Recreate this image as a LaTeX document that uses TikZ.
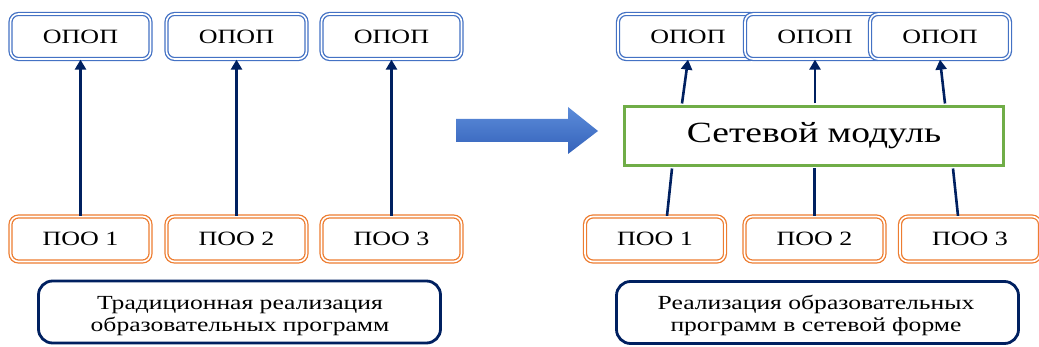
\documentclass[tikz,border=0pt]{standalone}
\usepackage{fontspec}
\setmainfont{Liberation Serif}[FakeStretch=1.28]
\usetikzlibrary{arrows.meta,calc}
\definecolor{bbox}{RGB}{68,114,196}
\definecolor{obox}{RGB}{237,125,49}
\definecolor{navy}{RGB}{0,32,96}
\definecolor{gbox}{RGB}{112,173,71}
\definecolor{arrtop}{RGB}{92,140,218}
\definecolor{arrbot}{RGB}{52,98,186}
\begin{document}
\begin{tikzpicture}[x=1pt,y=-1pt,
  dbl/.style={draw=#1, double=white, line width=1.3pt, double distance=1.6pt,
    rounded corners=8pt, fill=white, minimum width=140pt, minimum height=45pt,
    inner sep=0pt, font=\fontsize{20.3}{22}\selectfont},
  capbox/.style={draw=navy, line width=2.8pt, rounded corners=14pt, fill=white,
    minimum width=402pt, minimum height=62pt, inner sep=0pt, align=center,
    font=\fontsize{20}{22}\selectfont},
  captxt/.style={inner sep=0pt, align=center, font=\fontsize{20}{22}\selectfont},
  modbox/.style={draw=gbox, line width=3pt, fill=white, minimum width=379pt,
    minimum height=59pt, inner sep=0pt, font=\fontsize{29.3}{32}\selectfont},
  arr/.style={draw=navy, line width=2.6pt, -{Triangle[width=11pt,length=10pt]}},
  lnk/.style={draw=navy, line width=2.6pt}
]
\useasboundingbox (0,0) rectangle (1039,347);

% left side
\node[dbl=bbox] (lo1) at (80.5,36.5) {ОПОП};
\node[dbl=bbox] (lo2) at (236.5,36.5) {ОПОП};
\node[dbl=bbox] (lo3) at (391.5,36.5) {ОПОП};
\node[dbl=obox] (lp1) at (80.5,239) {ПОО 1};
\node[dbl=obox] (lp2) at (236.5,239) {ПОО 2};
\node[dbl=obox] (lp3) at (391.5,239) {ПОО 3};
\draw[arr] (lp1.north) -- (lo1.south);
\draw[arr] (lp2.north) -- (lo2.south);
\draw[arr] (lp3.north) -- (lo3.south);
\node[capbox] (lcap) at (239.5,312) {};
\node[captxt] (lcaptxt) at (240,316) {Традиционная реализация\\образовательных программ};

% big arrow
\shade[top color=arrtop, bottom color=arrbot]
  (456,119) -- (568,119) -- (568,107) -- (598,131) -- (568,154) -- (568,142) -- (456,142) -- cycle;

% right side
\node[dbl=bbox] (ro1) at (688,36.5) {ОПОП};
\node[dbl=bbox] (ro2) at (815,36.5) {ОПОП};
\node[dbl=bbox] (ro3) at (940,36.5) {ОПОП};
\node[modbox] (mod) at (814,136) {Сетевой модуль};
\node[dbl=obox] (rp1) at (655,239) {ПОО 1};
\node[dbl=obox] (rp2) at (814.5,239) {ПОО 2};
\node[dbl=obox] (rp3) at (970,239) {ПОО 3};
\draw[arr] ($(mod.north west)+(59,-1.5)$) -- (ro1.south);
\draw[arr] ($(mod.north)+(1,-1.5)$) -- (ro2.south);
\draw[arr] ($(mod.north east)+(-60,-1.5)$) -- (ro3.south);
\draw[lnk] ($(rp1.north)+(12,0)$) -- ($(mod.south west)+(49,1.5)$);
\draw[lnk] (rp2.north) -- ($(mod.south)+(0.5,1.5)$);
\draw[lnk] ($(rp3.north)+(-12,0)$) -- ($(mod.south east)+(-52,1.5)$);
\node[capbox] (rcap) at (817.5,312.5) {};
\node[captxt] (rcaptxt) at (816,315) {Реализация образовательных\\программ в сетевой форме};
\end{tikzpicture}
\end{document}
